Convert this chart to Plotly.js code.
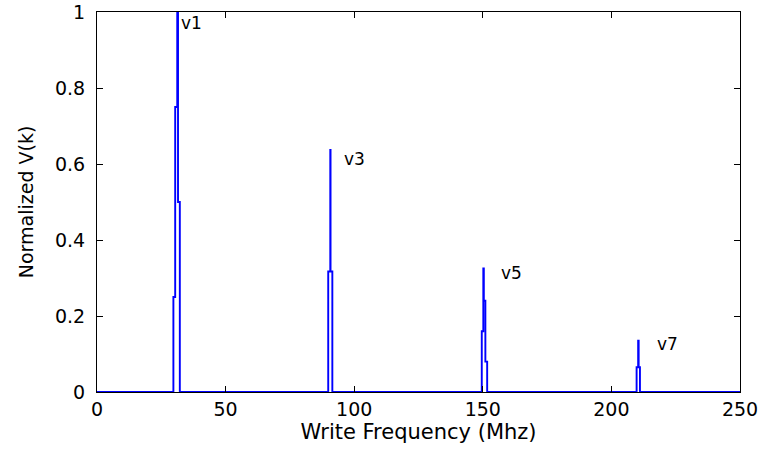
<!DOCTYPE html>
<html>
<head>
<meta charset="utf-8">
<script src="https://cdn.plot.ly/plotly-3.0.1.min.js"></script>
<style>html,body{margin:0;padding:0;background:#fff;}#chart{width:760px;height:450px;}</style>
</head>
<body>
<div id="chart"></div>
<script>
// Harmonic peaks (step breakpoints, MHz / normalized value)
const v1X = [29.7, 30.4, 31.2, 31.5, 32.2];
const v1Y = [0.25, 0.75, 1.0, 0.5, 0];
const v3X = [89.9, 90.7, 90.8, 91.5];
const v3Y = [0.317, 0.637, 0.317, 0];
const v5X = [149.6, 150.2, 150.4, 151.0, 151.7];
const v5Y = [0.16, 0.325, 0.24, 0.08, 0];
const v7X = [209.8, 210.4, 210.6, 211.1];
const v7Y = [0.065, 0.135, 0.065, 0];
const startX = [0], startY = [0];
const endX = [250], endY = [0];

const labelText = ['v1', 'v3', 'v5', 'v7'];
const labelX = [31.8, 95.4, 156.4, 217.0];
const labelY = [0.972, 0.614, 0.314, 0.127];

const xTicks = [0, 50, 100, 150, 200, 250];
const yTicks = [0, 0.2, 0.4, 0.6, 0.8, 1];

const xs = [].concat(startX, v1X, v3X, v5X, v7X, endX);
const ys = [].concat(startY, v1Y, v3Y, v5Y, v7Y, endY);

const fam = 'DejaVu Sans, sans-serif';
const tickFont = {family: fam, size: 19, color: '#000'};
const annFont = {family: fam, size: 17, color: '#000'};

const trace = {
  x: xs, y: ys, type: 'scatter', mode: 'lines',
  line: {color: '#0000ff', width: 1.9, shape: 'hv'},
  hoverinfo: 'none'
};

const annotations = labelText.map((t, i) => ({
  x: labelX[i], y: labelY[i], xref: 'x', yref: 'y', text: t,
  showarrow: false, xanchor: 'left', yanchor: 'middle', font: annFont
}));

const axisCommon = {
  showline: true, linecolor: '#000', linewidth: 1, mirror: 'allticks',
  ticks: 'inside', ticklen: 6, tickcolor: '#000', tickwidth: 1,
  showgrid: false, zeroline: false, tickfont: tickFont
};

const layout = {
  width: 760, height: 450,
  margin: {l: 97, r: 20, t: 12, b: 58},
  paper_bgcolor: '#fff', plot_bgcolor: '#fff',
  showlegend: false,
  xaxis: Object.assign({}, axisCommon, {
    range: [0, 250], tickvals: xTicks, ticktext: xTicks.map(String),
    title: {text: 'Write Frequency (Mhz)', font: {family: fam, size: 21, color: '#000'}, standoff: 1}
  }),
  yaxis: Object.assign({}, axisCommon, {
    range: [0, 1], tickvals: yTicks, ticktext: yTicks.map(String),
    ticklabelstandoff: 7,
    title: {text: 'Normalized V(k)', font: {family: fam, size: 19, color: '#000'}, standoff: 16}
  }),
  annotations: annotations
};

Plotly.newPlot('chart', [trace], layout, {displayModeBar: false, staticPlot: true});
</script>
</body>
</html>
